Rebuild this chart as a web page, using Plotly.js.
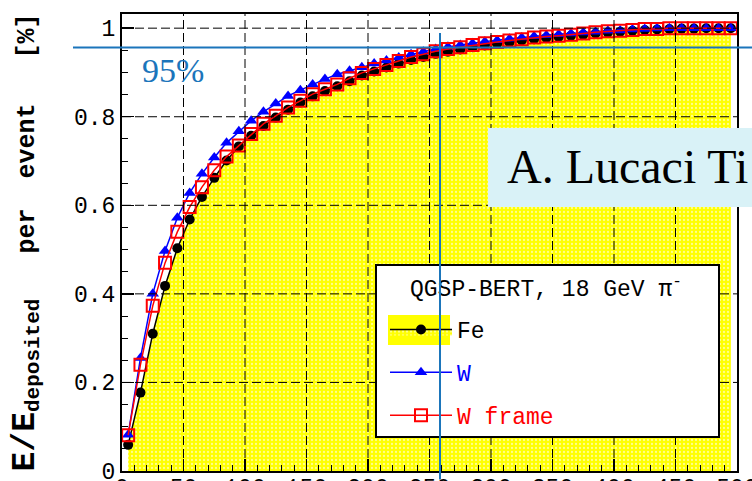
<!DOCTYPE html>
<html><head><meta charset="utf-8">
<script src="https://cdn.plot.ly/plotly-3.0.1.min.js"></script>
<style>html,body{margin:0;padding:0;background:#fff}</style>
</head><body><div id="chart" style="width:752px;height:481px"></div>
<script>
// ---- data ----
const xBins = [5,15,25,35,45,55,65,75,85,95,105,115,125,135,145,155,165,175,185,195,
  205,215,225,235,245,255,265,275,285,295,305,315,325,335,345,355,365,375,385,395,
  405,415,425,435,445,455,465,475,485,495];
const feValues = [0.059,0.177,0.310,0.418,0.503,0.568,0.619,0.662,0.701,0.733,
  0.757,0.779,0.798,0.816,0.832,0.846,0.858,0.869,0.880,0.893,
  0.902,0.911,0.920,0.928,0.935,0.942,0.947,0.952,0.957,0.961,
  0.965,0.968,0.972,0.975,0.978,0.980,0.983,0.985,0.988,0.990,
  0.992,0.994,0.996,0.997,0.998,0.999,0.999,1.000,1.000,1.000];
const wValues = [0.082,0.255,0.400,0.497,0.572,0.628,0.671,0.708,0.741,0.767,
  0.791,0.811,0.830,0.847,0.860,0.873,0.885,0.896,0.904,0.912,
  0.920,0.927,0.934,0.941,0.947,0.953,0.958,0.962,0.966,0.970,
  0.973,0.976,0.979,0.982,0.984,0.986,0.988,0.990,0.992,0.994,
  0.995,0.997,0.998,0.999,1.000,1.000,1.000,1.000,1.000,1.000];
const wFrameValues = [0.081,0.240,0.373,0.470,0.540,0.596,0.641,0.679,0.710,0.735,
  0.761,0.784,0.802,0.821,0.836,0.851,0.862,0.873,0.887,0.899,
  0.908,0.917,0.926,0.935,0.941,0.948,0.953,0.957,0.962,0.966,
  0.969,0.972,0.975,0.979,0.981,0.983,0.985,0.988,0.991,0.993,
  0.994,0.996,0.998,0.998,1.000,1.000,1.000,1.000,1.000,1.000];
const seriesNames = ['Fe','W','W frame'];
const legendTitle = 'QGSP-BERT, 18 GeV \u03c0<sup>-</sup>';
const xTickValues = [0,50,100,150,200,250,300,350,400,450,500];
const yTickValues = [0,0.2,0.4,0.6,0.8,1];
const yTitle = '<span style="font-size:33px">E/E</span><sub><span style="font-size:21px">deposited</span></sub>   per  event   [%]';
const noteText = 'A. Lucaci Ti';
const pctText = '95%';

// ---- styling ----
const MONO = 'Liberation Mono, Courier New, monospace';
const SERIF = 'Liberation Serif, Times New Roman, serif';
const BLUE_NOTE = '#1b75bb';

const traces = [
  {
    x: xBins, y: feValues, type: 'scatter', mode: 'lines+markers',
    name: '<span style="color:#000">' + seriesNames[0] + '</span>', legendgroup: 'g1',
    fill: 'tozeroy', fillcolor: '#ffff00',
    fillpattern: {shape: '.', bgcolor: '#ffff00', fgcolor: '#ffffff', fgopacity: 0.55, size: 4, solidity: 0.25},
    line: {color: '#000', width: 1.5},
    marker: {symbol: 'circle', size: 10, color: '#000'}
  },
  {
    x: xBins, y: wValues, type: 'scatter', mode: 'lines+markers',
    name: '<span style="color:#0000ff">' + seriesNames[1] + '</span>', legendgroup: 'g2',
    line: {color: '#0000ff', width: 1.5},
    marker: {symbol: 'triangle-up', size: 11, color: '#0000ff'}
  },
  {
    x: xBins, y: wFrameValues, type: 'scatter', mode: 'lines+markers',
    name: '<span style="color:#ff0000">' + seriesNames[2] + '</span>', legendgroup: 'g3',
    line: {color: '#ff0000', width: 1.5},
    marker: {symbol: 'square-open', size: 12, color: '#ff0000', line: {width: 2, color: '#ff0000'}}
  }
];

// plot area in pixels: x 122..737, y 14..471
const L = 122, R = 737, T = 14, B = 471;
const px = v => (v - L) / (R - L);
const py = v => (B - v) / (B - T);

const shapes = [];
// dashed grid drawn on top of the filled area
xTickValues.slice(1, -1).forEach(v => shapes.push({
  type: 'line', layer: 'above', xref: 'x', yref: 'paper', x0: v, x1: v, y0: 0, y1: 1,
  line: {color: '#000', width: 1, dash: '9px,4px'}
}));
yTickValues.slice(1).forEach(v => shapes.push({
  type: 'line', layer: 'above', xref: 'paper', yref: 'y', x0: 0, x1: 1, y0: v, y1: v,
  line: {color: '#000', width: 1, dash: '9px,4px'}
}));
// legend frame
shapes.push({type: 'rect', layer: 'above', xref: 'paper', yref: 'paper',
  x0: px(376), x1: px(719), y0: py(437), y1: py(265),
  fillcolor: '#ffffff', line: {color: '#000', width: 2}});
// yellow box behind the Fe legend symbol
shapes.push({type: 'rect', layer: 'above', xref: 'paper', yref: 'paper',
  x0: px(388), x1: px(450), y0: py(345), y1: py(315),
  fillcolor: '#ffff00', line: {width: 0}});
// slide overlay: cyan box and horizontal blue line
shapes.push({type: 'rect', layer: 'above', xref: 'paper', yref: 'paper',
  x0: px(488), x1: px(770), y0: py(207), y1: py(128),
  fillcolor: '#d9f2f7', line: {width: 0}});
shapes.push({type: 'line', layer: 'above', xref: 'paper', yref: 'paper',
  x0: px(73), x1: px(760), y0: py(47.5), y1: py(47.5),
  line: {color: BLUE_NOTE, width: 2}});

const annotations = [
  {xref: 'paper', yref: 'paper', x: px(408), y: py(288), xanchor: 'left', yanchor: 'middle',
   text: legendTitle, showarrow: false, font: {family: MONO, size: 23, color: '#000'}},
  {xref: 'paper', yref: 'paper', x: px(505), y: py(166), xanchor: 'left', yanchor: 'middle',
   text: noteText, showarrow: false, font: {family: SERIF, size: 48, color: '#000'}},
  {xref: 'paper', yref: 'paper', x: px(140), y: py(70), xanchor: 'left', yanchor: 'middle',
   text: pctText, showarrow: false, font: {family: SERIF, size: 34, color: BLUE_NOTE}},
  {xref: 'paper', yref: 'paper', x: px(440), y: py(33), text: '', showarrow: true,
   ax: 0, ay: 470, arrowhead: 0, arrowwidth: 2, arrowcolor: BLUE_NOTE, standoff: 0, startstandoff: 0,
   font: {size: 1}}
];

const tickFont = {family: MONO, size: 23, color: '#000'};

const layout = {
  width: 752, height: 481,
  margin: {l: L, r: 752 - R, t: T, b: 481 - B, pad: 0},
  paper_bgcolor: '#fff', plot_bgcolor: '#fff',
  showlegend: true,
  legend: {
    x: px(385), y: py(308), xanchor: 'left', yanchor: 'top',
    bgcolor: 'rgba(0,0,0,0)', borderwidth: 0,
    font: {family: MONO, size: 23, color: '#000'},
    itemwidth: 62, traceorder: 'grouped', tracegroupgap: 10
  },
  xaxis: {
    range: [0, 500], tickvals: xTickValues, ticktext: xTickValues.map(String),
    ticks: 'inside', ticklen: 12, tickwidth: 1.5, tickcolor: '#000',
    minor: {dtick: 10, tick0: 0, ticks: 'inside', ticklen: 6, tickwidth: 1, tickcolor: '#000', showgrid: false},
    showline: true, mirror: true, linecolor: '#000', linewidth: 2,
    showgrid: false, zeroline: false, tickfont: tickFont, ticklabeloverflow: 'allow',
    ticklabelstandoff: -6
  },
  yaxis: {
    range: [0, 1.032], tickvals: yTickValues, ticktext: yTickValues.map(String),
    ticks: 'inside', ticklen: 12, tickwidth: 1.5, tickcolor: '#000',
    minor: {dtick: 0.05, tick0: 0, ticks: 'inside', ticklen: 6, tickwidth: 1, tickcolor: '#000', showgrid: false},
    showline: true, mirror: true, linecolor: '#000', linewidth: 2,
    showgrid: false, zeroline: false, tickfont: tickFont, ticklabeloverflow: 'allow',
    title: {text: yTitle, font: {family: MONO, size: 25, color: '#000', weight: 'bold'}, standoff: 32}
  },
  shapes: shapes,
  annotations: annotations
};

Plotly.newPlot('chart', traces, layout, {staticPlot: true, displayModeBar: false});
</script></body></html>
